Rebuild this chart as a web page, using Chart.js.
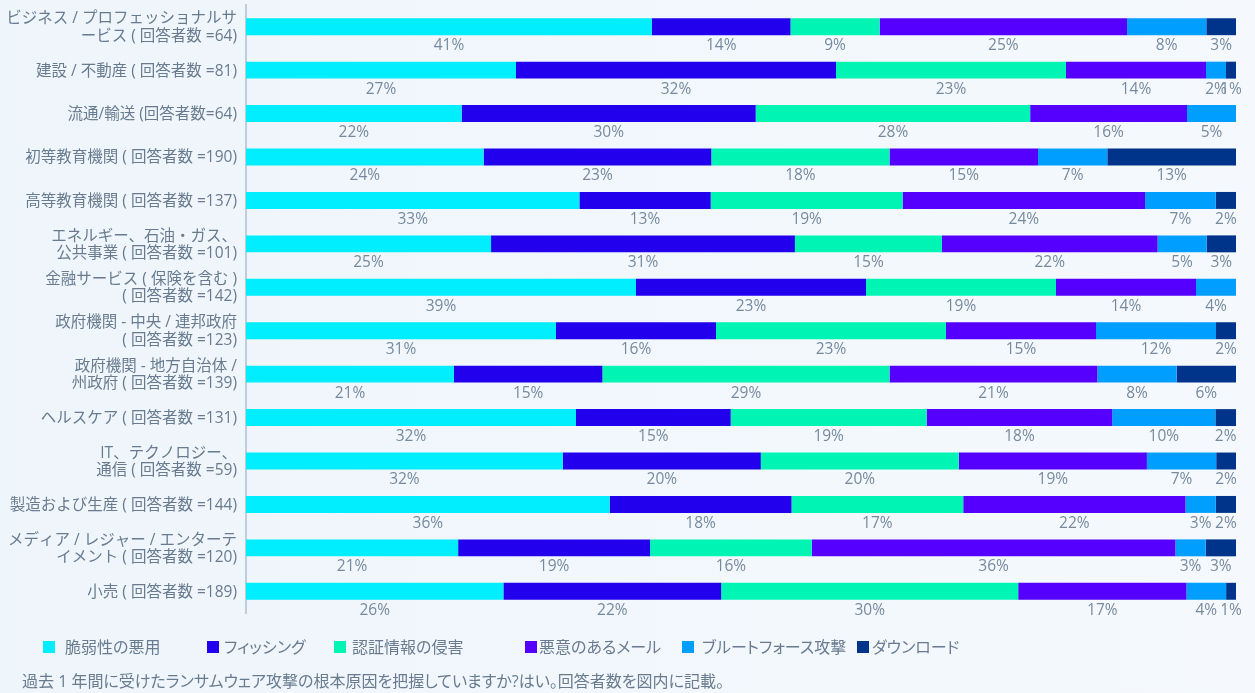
<!DOCTYPE html>
<html>
<head>
<meta charset="utf-8">
<script src="https://cdn.jsdelivr.net/npm/chart.js@4.4.1/dist/chart.umd.min.js"></script>
<style>
  html, body { margin: 0; padding: 0; }
  body { width: 1255px; height: 693px; overflow: hidden; background: linear-gradient(90deg, #eef5fb 0%, #f5f9fd 100%); font-family: "Open Sans", "Noto Sans CJK JP", sans-serif; }
  #wrap { position: relative; width: 1255px; height: 693px; }
  canvas { position: absolute; left: 0; top: 0; }
  .lg { position: absolute; font-size: 16px; color: #687b8f; white-space: nowrap; line-height: 20px; font-feature-settings: "palt"; }
  .sq { position: absolute; width: 12px; height: 12px; }
  #note { position: absolute; left: 22px; top: 671px; font-size: 16px; color: #687b8f; white-space: nowrap; line-height: 20px; font-feature-settings: "palt"; }
</style>
</head>
<body>
<div id="wrap">
  <canvas id="c" width="1255" height="693"></canvas>
  <div id="legend"></div>
  <div id="note"></div>
</div>
<script>
// ---- Data ----
const categories = [
  ["ビジネス / プロフェッショナルサ", "ービス ( 回答者数 =64)"],
  "建設 / 不動産 ( 回答者数 =81)",
  "流通/輸送 (回答者数=64)",
  "初等教育機関 ( 回答者数 =190)",
  "高等教育機関 ( 回答者数 =137)",
  ["エネルギー、石油・ガス、", "公共事業 ( 回答者数 =101)"],
  ["金融サービス ( 保険を含む )", "( 回答者数 =142)"],
  ["政府機関 - 中央 / 連邦政府", "( 回答者数 =123)"],
  ["政府機関 - 地方自治体 /", "州政府 ( 回答者数 =139)"],
  "ヘルスケア ( 回答者数 =131)",
  ["IT、テクノロジー、", "通信 ( 回答者数 =59)"],
  "製造および生産 ( 回答者数 =144)",
  ["メディア / レジャー / エンターテ", "イメント ( 回答者数 =120)"],
  "小売 ( 回答者数 =189)"
];
const seriesNames = ["脆弱性の悪用", "フィッシング", "認証情報の侵害", "悪意のあるメール", "ブルートフォース攻撃", "ダウンロード"];
const vulnerability = [41, 27, 22, 24, 33, 25, 39, 31, 21, 32, 32, 36, 21, 26];
const phishing      = [14, 32, 30, 23, 13, 31, 23, 16, 15, 15, 20, 18, 19, 22];
const credentials   = [ 9, 23, 28, 18, 19, 15, 19, 23, 29, 19, 20, 17, 16, 30];
const maliciousMail = [25, 14, 16, 15, 24, 22, 14, 15, 21, 18, 19, 22, 36, 17];
const bruteForce    = [ 8,  2,  5,  7,  7,  5,  4, 12,  8, 10,  7,  3,  3,  4];
const download      = [ 3,  1,  0, 13,  2,  3,  0,  2,  6,  2,  2,  2,  3,  1];
const footnote = "過去 1 年間に受けたランサムウェア攻撃の根本原因を把握していますか?はい。回答者数を図内に記載。";

// ---- Styles ----
const colors = ["#00EEFF", "#2200EE", "#00F5B5", "#5500FF", "#009EFF", "#00348A"];
const legendPos = [[43, 65], [207, 224], [334, 352], [525, 539], [682, 702], [857, 872]];

const raw = [vulnerability, phishing, credentials, maliciousMail, bruteForce, download];
const totals = categories.map((_, i) => raw.reduce((s, a) => s + a[i], 0));

const datasets = raw.map((arr, k) => ({
  label: seriesNames[k],
  rawValues: arr,
  data: arr.map((v, i) => v / totals[i] * 100),
  backgroundColor: colors[k],
  borderWidth: 0,
  barPercentage: 0.39,
  categoryPercentage: 1.0
}));

const valueLabels = {
  id: 'valueLabels',
  afterDatasetsDraw(chart) {
    const ctx = chart.ctx;
    ctx.save();
    ctx.font = '15.5px "Open Sans", "Noto Sans", sans-serif';
    ctx.fillStyle = '#768a9e';
    ctx.textAlign = 'center';
    ctx.textBaseline = 'middle';
    chart.data.datasets.forEach((ds, k) => {
      const meta = chart.getDatasetMeta(k);
      meta.data.forEach((bar, i) => {
        const v = ds.rawValues[i];
        if (!v) return;
        const cx = (bar.x + bar.base) / 2;
        ctx.fillText(v + '%', cx, bar.y + 19);
      });
    });
    ctx.restore();
  }
};

new Chart(document.getElementById('c'), {
  type: 'bar',
  data: { labels: categories, datasets },
  options: {
    indexAxis: 'y',
    responsive: false,
    animation: false,
    layout: { padding: { left: 0, right: 19, top: 5, bottom: 80 } },
    plugins: { legend: { display: false }, tooltip: { enabled: false } },
    scales: {
      x: { stacked: true, min: 0, max: 100, display: false },
      y: {
        stacked: true,
        grid: { display: false, drawTicks: false },
        border: { display: true, color: '#bccddd', width: 2 },
        ticks: {
          color: '#687b8f',
          font: { size: 15.5, family: '"Open Sans", "Noto Sans CJK JP", sans-serif', lineHeight: 1.12 },
          padding: 9,
          labelOffset: 1,
          autoSkip: false
        },
        afterFit(scale) { scale.width = 246; scale.paddingTop = 0; scale.paddingBottom = 0; }
      }
    }
  },
  plugins: [valueLabels]
});

// legend (HTML)
const lg = document.getElementById('legend');
seriesNames.forEach((name, k) => {
  const sq = document.createElement('div');
  sq.className = 'sq';
  sq.style.left = legendPos[k][0] + 'px';
  sq.style.top = '641px';
  sq.style.background = colors[k];
  lg.appendChild(sq);
  const t = document.createElement('div');
  t.className = 'lg';
  t.style.left = legendPos[k][1] + 'px';
  t.style.top = '637px';
  t.textContent = name;
  lg.appendChild(t);
});
document.getElementById('note').textContent = footnote;
</script>
</body>
</html>
